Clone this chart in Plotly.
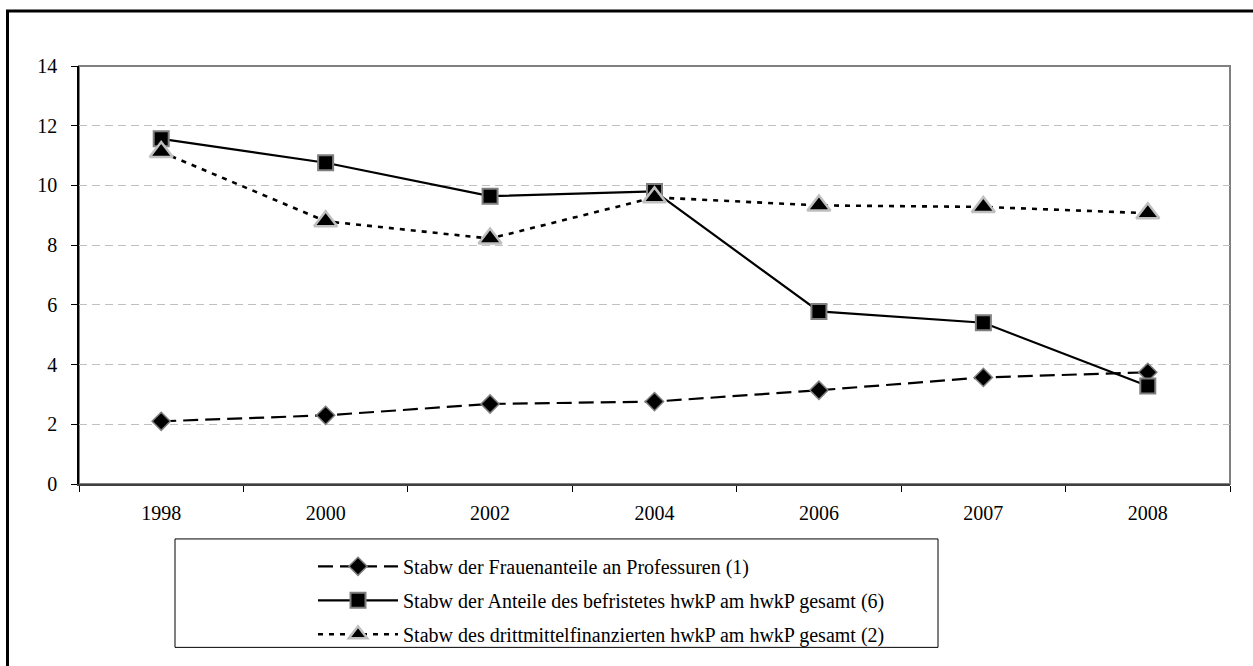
import plotly.graph_objects as go

years = ["1998", "2000", "2002", "2004", "2006", "2007", "2008"]
frauen = [2.10, 2.30, 2.68, 2.76, 3.14, 3.57, 3.74]
befristet = [11.56, 10.76, 9.64, 9.80, 5.78, 5.40, 3.28]
drittmittel = [11.12, 8.80, 8.22, 9.60, 9.33, 9.28, 9.07]

names = [
    "Stabw der Frauenanteile an Professuren (1)",
    "Stabw der Anteile des befristetes hwkP am hwkP gesamt (6)",
    "Stabw des drittmittelfinanzierten hwkP am hwkP gesamt (2)",
]

W, H = 1253, 666
# plot area in page coordinates
L, R, T, B = 79, 1230, 66, 492
pw, ph = R - L, B - T

def px(x):
    return (x - L) / pw

def py(y):
    return (B - y) / ph

FONT = "Liberation Serif"
FS = 20

fig = go.Figure()
fig.add_trace(go.Scatter(
    x=years, y=frauen, name=names[0], mode="lines+markers", legendgroup="a",
    line=dict(color="black", width=2.2, dash="15px,7px"),
    marker=dict(symbol="diamond", size=14, color="black", line=dict(color="#7f7f7f", width=1.5)),
))
fig.add_trace(go.Scatter(
    x=years, y=befristet, name=names[1], mode="lines+markers", legendgroup="b",
    line=dict(color="black", width=2.2),
    marker=dict(symbol="square", size=15, color="black", line=dict(color="#7f7f7f", width=2)),
))
fig.add_trace(go.Scatter(
    x=years, y=drittmittel, name=names[2], mode="lines+markers", legendgroup="c",
    line=dict(color="black", width=2.6, dash="5px,6px"),
    marker=dict(symbol="triangle-up", size=20, color="black", line=dict(color="#bfbfbf", width=2.5)),
))

shapes = [
    dict(type="rect", xref="paper", yref="paper", x0=0, x1=1, y0=0, y1=1,
         line=dict(color="#808080", width=2), layer="below"),
    dict(type="rect", xref="paper", yref="paper", x0=px(7.5), x1=px(1320), y0=py(10), y1=py(740),
         line=dict(color="black", width=3)),
    dict(type="rect", xref="paper", yref="paper", x0=px(175), x1=px(938), y0=py(548), y1=py(658.5),
         line=dict(color="black", width=1)),
]

fig.update_layout(
    width=W, height=H,
    margin=dict(l=L, r=W - R, t=T, b=H - B, pad=0),
    paper_bgcolor="white", plot_bgcolor="white",
    font=dict(family=FONT, size=FS, color="black"),
    showlegend=True,
    legend=dict(
        x=px(313), y=py(556), xanchor="left", yanchor="top",
        bgcolor="rgba(0,0,0,0)", borderwidth=0,
        font=dict(family=FONT, size=FS, color="black"),
        itemwidth=80, tracegroupgap=5, traceorder="grouped",
    ),
    shapes=shapes,
    xaxis=dict(
        type="category", categoryorder="array", categoryarray=years,
        range=[-0.5, 6.5], showgrid=False, zeroline=False,
        showline=True, linecolor="#404040", linewidth=2,
        ticks="outside", tickson="boundaries", ticklen=6, tickcolor="black", tickwidth=1,
        ticklabelstandoff=10, tickfont=dict(family=FONT, size=FS),
    ),
    yaxis=dict(
        range=[0, 14], tickvals=[0, 2, 4, 6, 8, 10, 12, 14],
        ticktext=["0", "2", "4", "6", "8", "10", "12", "14"],
        showgrid=True, gridcolor="#c0c0c0", gridwidth=1, griddash="8px,5px",
        zeroline=False, showline=True, linecolor="black", linewidth=1.5,
        ticks="outside", ticklen=6, tickcolor="black", tickwidth=1,
        ticklabelstandoff=10, tickfont=dict(family=FONT, size=FS),
    ),
)

fig.write_html(
    "out.html",
    config={"displayModeBar": False},
    post_script="document.body.style.margin='0';document.body.style.overflow='hidden';",
)
